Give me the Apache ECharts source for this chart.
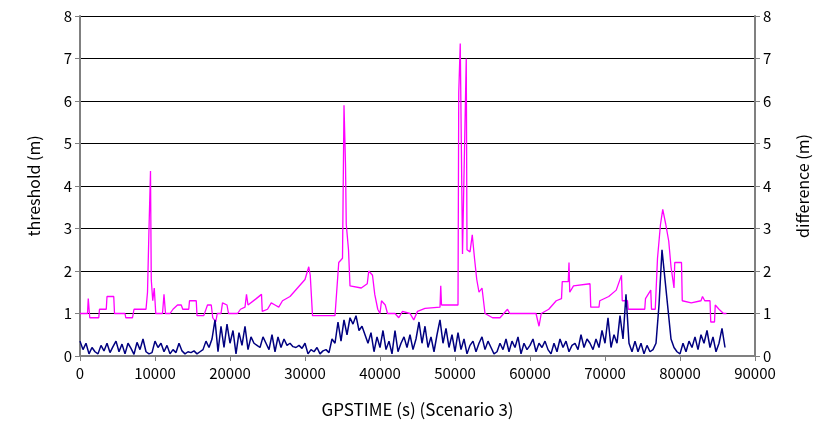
<!DOCTYPE html>
<html>
<head>
<meta charset="utf-8">
<script src="https://cdn.jsdelivr.net/npm/echarts@6/dist/echarts.min.js"></script>
<style>html,body{margin:0;background:#fff}#c{width:826px;height:434px}</style>
</head>
<body>
<div id="c"></div>
<script>
// threshold (m): [GPSTIME, value] breakpoints of the stepped curve
var thresholdPts = [
  [0,1.0],[1000,1.0],[1100,1.35],[1300,0.9],[2500,0.9],[2600,1.1],[3500,1.1],[3600,1.4],[4500,1.4],[4600,1.0],
  [6000,1.0],[6100,0.9],[7000,0.9],[7200,1.1],[8800,1.1],[9000,1.5],[9200,3.0],[9400,4.35],[9500,1.8],[9700,1.3],
  [9900,1.6],[10100,1.0],[11000,1.0],[11200,1.45],[11400,1.0],[12000,1.0],[12400,1.1],[13000,1.2],[13500,1.2],[13700,1.1],
  [14500,1.1],[14600,1.3],[15500,1.3],[15600,0.95],[16500,0.95],[17000,1.2],[17500,1.2],[17700,0.9],[18100,0.8],[18300,1.0],
  [18800,1.0],[19000,1.25],[19600,1.2],[19800,1.0],[21000,1.0],[21400,1.1],[22000,1.15],[22200,1.45],[22400,1.2],[23500,1.35],
  [24200,1.45],[24300,1.05],[25000,1.1],[25500,1.25],[26000,1.2],[26500,1.15],[27000,1.3],[28000,1.4],[29000,1.6],[30000,1.8],
  [30500,2.1],[30700,1.9],[31000,0.95],[34000,0.95],[34500,2.2],[35000,2.3],[35200,5.9],[35400,4.5],[35500,3.1],[35800,2.5],
  [36000,1.65],[37500,1.6],[38300,1.7],[38500,2.0],[39000,1.9],[39300,1.45],[39700,1.1],[40000,1.0],[40200,1.3],[40700,1.2],
  [41000,1.0],[42000,1.0],[42500,0.9],[43000,1.05],[44000,1.0],[44500,0.85],[45000,1.05],[46000,1.12],[48000,1.15],[48100,1.65],
  [48200,1.2],[50400,1.2],[50500,6.2],[50700,7.35],[51000,2.4],[51500,7.0],[51600,2.5],[52000,2.45],[52300,2.85],[52600,2.3],
  [52900,1.8],[53200,1.5],[53600,1.6],[54000,1.0],[55000,0.9],[56000,0.9],[56500,1.0],[57000,1.1],[57300,1.0],[60800,1.0],
  [61200,0.7],[61500,1.0],[62500,1.1],[63500,1.3],[64200,1.35],[64300,1.75],[65100,1.75],[65200,2.2],[65300,1.5],[65800,1.65],
  [68000,1.7],[68100,1.15],[69200,1.15],[69300,1.3],[70500,1.4],[71500,1.55],[72200,1.9],[72300,1.3],[73000,1.3],[73100,1.1],
  [75300,1.1],[75400,1.35],[76100,1.55],[76200,1.1],[76700,1.1],[77000,2.3],[77400,3.1],[77700,3.45],[78100,3.1],[78500,2.7],
  [78800,2.1],[79200,1.6],[79300,2.2],[80200,2.2],[80300,1.3],[81500,1.25],[82800,1.3],[83000,1.4],[83300,1.3],[84000,1.3],
  [84100,0.8],[84600,0.8],[84700,1.2],[85200,1.1],[85800,1.0],[86200,1.0]
];

// difference (m): one sample every 400 s, from GPSTIME 0
var diffStart = 0;
var diffStep = 400;
var diffValues = [
  0.35,0.15,0.3,0.05,0.2,0.1,0.05,0.25,0.12,0.3,0.08,0.22,0.35,0.1,0.28,0.05,0.3,0.18,0.04,0.32,
  0.15,0.4,0.1,0.05,0.08,0.35,0.2,0.3,0.1,0.25,0.05,0.15,0.08,0.3,0.12,0.05,0.1,0.08,0.12,0.05,
  0.1,0.15,0.35,0.2,0.4,0.85,0.1,0.7,0.2,0.75,0.3,0.6,0.05,0.55,0.25,0.7,0.15,0.45,0.3,0.25,
  0.2,0.45,0.3,0.15,0.5,0.1,0.45,0.2,0.4,0.25,0.3,0.22,0.2,0.25,0.18,0.3,0.05,0.15,0.1,0.2,
  0.05,0.12,0.15,0.08,0.4,0.3,0.8,0.35,0.85,0.5,0.9,0.75,0.95,0.6,0.7,0.5,0.3,0.55,0.1,0.45,
  0.2,0.6,0.15,0.35,0.05,0.6,0.1,0.3,0.45,0.2,0.5,0.15,0.4,0.8,0.3,0.7,0.2,0.45,0.1,0.5,
  0.85,0.3,0.65,0.2,0.5,0.1,0.55,0.15,0.4,0.05,0.25,0.35,0.1,0.3,0.45,0.15,0.35,0.2,0.05,0.1,
  0.3,0.15,0.4,0.1,0.35,0.2,0.45,0.05,0.3,0.15,0.25,0.4,0.1,0.3,0.2,0.35,0.15,0.05,0.3,0.1,
  0.4,0.2,0.35,0.1,0.25,0.3,0.15,0.5,0.2,0.4,0.3,0.15,0.4,0.2,0.6,0.3,0.9,0.2,0.5,0.3,
  0.95,0.4,1.45,0.3,0.1,0.35,0.1,0.3,0.05,0.25,0.1,0.15,0.3,1.2,2.5,1.8,1.1,0.4,0.2,0.1,
  0.05,0.3,0.1,0.35,0.2,0.45,0.15,0.5,0.3,0.6,0.2,0.45,0.1,0.3,0.65,0.2
];

var diffData = diffValues.map(function(v, i) { return [diffStart + i * diffStep, v]; });

var chart = echarts.init(document.getElementById('c'));
var font = '"Noto Sans CJK JP", sans-serif';
var yAxisBase = {
  type: 'value', min: 0, max: 8, interval: 1,
  nameLocation: 'middle', nameGap: 38, nameRotate: 90,
  nameTextStyle: { fontSize: 16, color: '#000', fontFamily: font },
  axisLine: { show: true, lineStyle: { color: '#808080', width: 2 } },
  axisTick: { show: true, inside: false, length: 5, lineStyle: { color: '#808080' } },
  axisLabel: { fontSize: 15, color: '#000', fontFamily: font, margin: 8 }
};
chart.setOption({
  animation: false,
  grid: { left: 80, right: 71, top: 16, bottom: 78 },
  xAxis: {
    type: 'value', min: 0, max: 90000, interval: 10000,
    name: 'GPSTIME (s) (Scenario 3)', nameLocation: 'middle', nameGap: 45,
    nameTextStyle: { fontSize: 17, color: '#000', fontFamily: font },
    axisLine: { lineStyle: { color: '#808080', width: 2 } },
    axisTick: { length: 5, lineStyle: { color: '#808080' } },
    axisLabel: { fontSize: 15, color: '#000', fontFamily: font, margin: 10,
      formatter: function(v) { return String(v); } },
    splitLine: { show: false }
  },
  yAxis: [
    Object.assign({}, yAxisBase, { name: 'threshold (m)', position: 'left',
      splitLine: { show: true, lineStyle: { color: '#000', width: 1.2 } } }),
    Object.assign({}, yAxisBase, { name: 'difference (m)', position: 'right', nameGap: 40,
      splitLine: { show: false } })
  ],
  series: [
    { name: 'threshold', type: 'line', yAxisIndex: 0, data: thresholdPts, symbol: 'none',
      lineStyle: { color: '#ff00ff', width: 1.3 } },
    { name: 'difference', type: 'line', yAxisIndex: 1, data: diffData, symbol: 'none',
      lineStyle: { color: '#000080', width: 1.5 } }
  ]
});
</script>
</body>
</html>
